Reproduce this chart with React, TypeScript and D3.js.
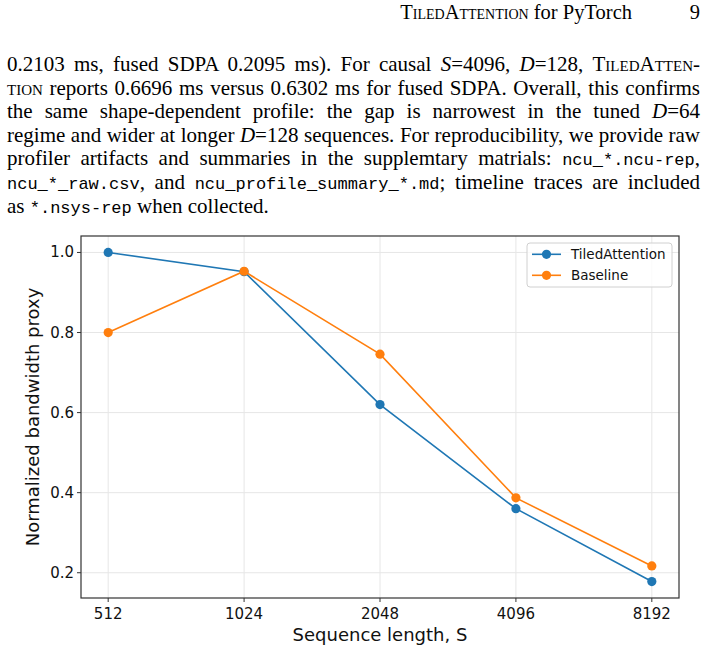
import React, { useLayoutEffect, useRef, useState } from "react";
import * as d3 from "d3";

// ---- chart data ----
const seqLengths = [512, 1024, 2048, 4096, 8192];
const tiledAttention = [1.0, 0.952, 0.62, 0.36, 0.178];
const baseline = [0.8, 0.953, 0.746, 0.387, 0.217];
const yTicks = [0.2, 0.4, 0.6, 0.8, 1.0];
const seriesNames = ["TiledAttention", "Baseline"];
const seriesColors = ["#1f77b4", "#ff7f0e"];

// ---- running text ----
type Seg = { t: string; s?: "sc" | "it" | "tt" };
const paragraph: Seg[][] = [
  [
    { t: "0.2103 ms, fused SDPA 0.2095 ms). For causal " },
    { t: "S", s: "it" },
    { t: "=4096, " },
    { t: "D", s: "it" },
    { t: "=128, " },
    { t: "TiledAtten-", s: "sc" },
  ],
  [
    { t: "tion", s: "sc" },
    { t: " reports 0.6696 ms versus 0.6302 ms for fused SDPA. Overall, this confirms" },
  ],
  [
    { t: "the same shape-dependent profile: the gap is narrowest in the tuned " },
    { t: "D", s: "it" },
    { t: "=64" },
  ],
  [
    { t: "regime and wider at longer " },
    { t: "D", s: "it" },
    { t: "=128 sequences. For reproducibility, we provide raw" },
  ],
  [
    { t: "profiler artifacts and summaries in the supplemtary matrials: " },
    { t: "ncu_*.ncu-rep", s: "tt" },
    { t: "," },
  ],
  [
    { t: "ncu_*_raw.csv", s: "tt" },
    { t: ", and " },
    { t: "ncu_profile_summary_*.md", s: "tt" },
    { t: "; timeline traces are included" },
  ],
  [
    { t: "as " },
    { t: "*.nsys-rep", s: "tt" },
    { t: " when collected." },
  ],
];

const W = 707;
const H = 665;
const SERIF = "'Liberation Serif', 'Times New Roman', serif";
const MONO = "'Liberation Mono', 'DejaVu Sans Mono', monospace";
const SANS = "'DejaVu Sans', sans-serif";

const textLeft = 7;
const textRight = 700;
const firstBaseline = 71;
const lineGap = 23.6;
const bodySize = 21;

function segProps(s?: Seg["s"]) {
  if (s === "it") return { fontStyle: "italic" as const };
  if (s === "sc") return { fontVariant: "small-caps" as const };
  if (s === "tt") return { fontFamily: MONO, fontSize: 17 };
  return {};
}

function Paragraph() {
  const refs = useRef<(SVGTextElement | null)[]>([]);
  const [spacing, setSpacing] = useState<number[]>(paragraph.map(() => 0));

  useLayoutEffect(() => {
    const next = paragraph.map((line, i) => {
      if (i === paragraph.length - 1) return 0;
      const el = refs.current[i];
      if (!el) return 0;
      const natural = el.getComputedTextLength();
      const spaces = line.map((g) => g.t).join("").split(" ").length - 1;
      return spaces > 0 ? (textRight - textLeft - natural) / spaces : 0;
    });
    setSpacing(next);
  }, []);

  return (
    <g fontFamily={SERIF} fontSize={bodySize} fill="#000">
      {paragraph.map((line, i) => (
        <text
          key={i}
          ref={(el) => {
            refs.current[i] = el;
          }}
          x={textLeft}
          y={firstBaseline + i * lineGap}
          wordSpacing={spacing[i]}
          style={{ whiteSpace: "pre" }}
        >
          {line.map((g, j) => (
            <tspan key={j} {...segProps(g.s)}>
              {g.t}
            </tspan>
          ))}
        </text>
      ))}
    </g>
  );
}

function Chart() {
  const left = 81;
  const right = 679;
  const top = 236;
  const bottom = 598;

  const allValues = [...tiledAttention, ...baseline];
  const lo = d3.min(allValues)!;
  const hi = d3.max(allValues)!;
  const padY = (hi - lo) * 0.05;

  const xInner = (right - left) / 1.1;
  const x = d3
    .scaleLog()
    .base(2)
    .domain([seqLengths[0], seqLengths[seqLengths.length - 1]])
    .range([left + xInner * 0.05, right - xInner * 0.05]);
  const y = d3
    .scaleLinear()
    .domain([lo - padY, hi + padY])
    .range([bottom, top]);

  const line = d3
    .line<number>()
    .x((_, i) => x(seqLengths[i]))
    .y((d) => y(d));

  const series = [tiledAttention, baseline];

  return (
    <g>
      {/* grid */}
      <g stroke="#e6e6e6" strokeWidth={1}>
        {seqLengths.map((s) => (
          <line key={"gx" + s} x1={x(s)} x2={x(s)} y1={top} y2={bottom} />
        ))}
        {yTicks.map((t) => (
          <line key={"gy" + t} x1={left} x2={right} y1={y(t)} y2={y(t)} />
        ))}
      </g>

      {/* series */}
      {series.map((vals, k) => (
        <g key={k}>
          <path d={line(vals)!} fill="none" stroke={seriesColors[k]} strokeWidth={1.6} />
          {vals.map((v, i) => (
            <circle key={i} cx={x(seqLengths[i])} cy={y(v)} r={4.6} fill={seriesColors[k]} />
          ))}
        </g>
      ))}

      {/* frame */}
      <rect
        x={left}
        y={top}
        width={right - left}
        height={bottom - top}
        fill="none"
        stroke="#333"
        strokeWidth={1.2}
      />

      {/* y axis */}
      <g fontFamily={SANS} fontSize={15} fill="#111">
        {yTicks.map((t) => (
          <g key={t}>
            <line x1={left - 4} x2={left} y1={y(t)} y2={y(t)} stroke="#333" strokeWidth={1} />
            <text x={left - 7} y={y(t)} textAnchor="end" dominantBaseline="central">
              {t.toFixed(1)}
            </text>
          </g>
        ))}
      </g>

      {/* x axis */}
      <g fontFamily={SANS} fontSize={15} fill="#111">
        {seqLengths.map((s) => (
          <g key={s}>
            <line x1={x(s)} x2={x(s)} y1={bottom} y2={bottom + 4} stroke="#333" strokeWidth={1} />
            <text x={x(s)} y={619} textAnchor="middle">
              {s}
            </text>
          </g>
        ))}
      </g>

      {/* axis titles */}
      <text
        x={(left + right) / 2}
        y={641}
        textAnchor="middle"
        fontFamily={SANS}
        fontSize={18}
        fill="#111"
      >
        Sequence length, S
      </text>
      <text
        transform={`translate(39, ${(top + bottom) / 2}) rotate(-90)`}
        textAnchor="middle"
        fontFamily={SANS}
        fontSize={18}
        fill="#111"
      >
        Normalized bandwidth proxy
      </text>

      {/* legend */}
      <g>
        <rect
          x={527}
          y={243}
          width={145}
          height={44}
          rx={3}
          fill="#fff"
          fillOpacity={0.8}
          stroke="#d0d0d0"
          strokeWidth={1}
        />
        {seriesNames.map((name, k) => {
          const ry = 254.3 + k * 21;
          return (
            <g key={name}>
              <line x1={532} x2={561} y1={ry} y2={ry} stroke={seriesColors[k]} strokeWidth={1.6} />
              <circle cx={546.5} cy={ry} r={4.6} fill={seriesColors[k]} />
              <text
                x={571}
                y={ry}
                dominantBaseline="central"
                fontFamily={SANS}
                fontSize={13.5}
                fill="#111"
              >
                {name}
              </text>
            </g>
          );
        })}
      </g>
    </g>
  );
}

export default function App() {
  return (
    <svg
      width={W}
      height={H}
      viewBox={`0 0 ${W} ${H}`}
      style={{ position: "absolute", left: 0, top: 0, background: "#fff" }}
    >
      <rect width={W} height={H} fill="#fff" />
      {/* running head */}
      <g fontFamily={SERIF} fontSize={20.5} fill="#000">
        <text x={632} y={19} textAnchor="end">
          <tspan fontVariant="small-caps">TiledAttention</tspan>
          <tspan> for PyTorch</tspan>
        </text>
        <text x={700} y={19} textAnchor="end">
          9
        </text>
      </g>
      <Paragraph />
      <Chart />
    </svg>
  );
}
